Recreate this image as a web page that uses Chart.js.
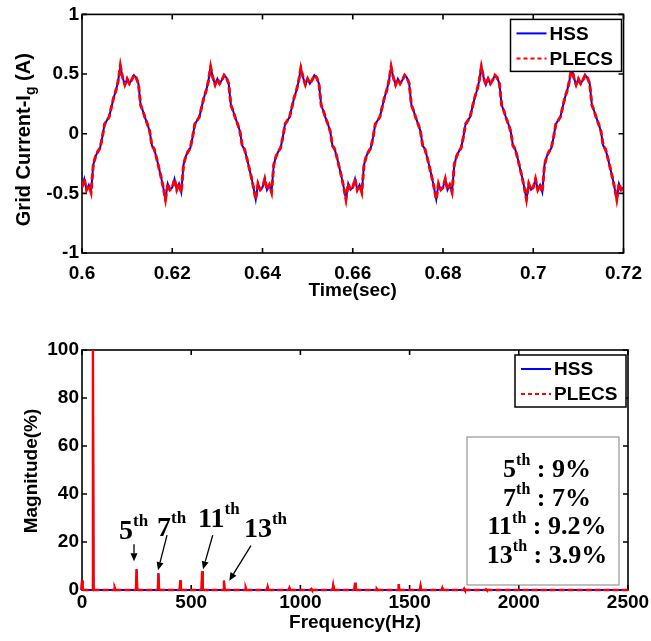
<!DOCTYPE html>
<html>
<head>
<meta charset="utf-8">
<title>Grid current: HSS vs PLECS</title>
<script src="https://cdn.jsdelivr.net/npm/chart.js@4.4.1/dist/chart.umd.min.js"></script>
<style>
  body { margin: 0; background: #fff; }
  canvas { position: absolute; left: 0; }
  #timeChart { top: 0; }
  #fftChart { top: 318px; }
</style>
</head>
<body>
<canvas id="timeChart" width="651" height="318"></canvas>
<canvas id="fftChart" width="651" height="323"></canvas>
<script>
// grid current, sampled every 0.5 ms from 0.6 s to 0.72 s (two rows per 20 ms cycle)
const timeStart = 0.6;
const timeStep = 0.0005;
const hssCurrent = [
  -0.45, -0.38, -0.47, -0.43, -0.49, -0.26, -0.19, -0.15, -0.12, -0.03, 0.08, 0.11, 0.14, 0.22, 0.30, 0.36, 0.44, 0.57, 0.47, 0.41,
   0.46,  0.42,  0.45,  0.49,  0.47,  0.42,  0.24,  0.19,  0.13,  0.08, 0.02, -0.10, -0.13, -0.20, -0.28, -0.36, -0.45, -0.55, -0.42, -0.47,
  -0.45, -0.38, -0.47, -0.42, -0.49, -0.26, -0.19, -0.15, -0.12, -0.03, 0.08, 0.11, 0.14, 0.22, 0.30, 0.36, 0.44, 0.56, 0.47, 0.41,
   0.46,  0.42,  0.45,  0.49,  0.47,  0.42,  0.24,  0.19,  0.13,  0.08, 0.02, -0.10, -0.13, -0.20, -0.28, -0.36, -0.45, -0.55, -0.42, -0.47,
  -0.45, -0.38, -0.47, -0.43, -0.49, -0.26, -0.19, -0.15, -0.12, -0.03, 0.08, 0.11, 0.14, 0.22, 0.30, 0.36, 0.44, 0.55, 0.47, 0.41,
   0.46,  0.42,  0.45,  0.49,  0.47,  0.42,  0.24,  0.19,  0.13,  0.08, 0.02, -0.10, -0.13, -0.20, -0.28, -0.36, -0.45, -0.55, -0.42, -0.47,
  -0.45, -0.38, -0.47, -0.43, -0.49, -0.26, -0.19, -0.15, -0.12, -0.03, 0.08, 0.11, 0.14, 0.22, 0.30, 0.36, 0.44, 0.56, 0.47, 0.41,
   0.46,  0.42,  0.45,  0.49,  0.47,  0.42,  0.24,  0.19,  0.13,  0.08, 0.02, -0.10, -0.13, -0.20, -0.28, -0.36, -0.45, -0.55, -0.42, -0.47,
  -0.45, -0.38, -0.47, -0.43, -0.49, -0.26, -0.19, -0.15, -0.12, -0.03, 0.08, 0.11, 0.14, 0.22, 0.30, 0.36, 0.44, 0.56, 0.47, 0.41,
   0.46,  0.42,  0.45,  0.49,  0.47,  0.42,  0.24,  0.19,  0.13,  0.08, 0.02, -0.10, -0.13, -0.20, -0.28, -0.36, -0.45, -0.55, -0.42, -0.47,
  -0.45, -0.38, -0.47, -0.43, -0.49, -0.26, -0.19, -0.15, -0.12, -0.03, 0.08, 0.11, 0.14, 0.22, 0.30, 0.36, 0.44, 0.56, 0.47, 0.41,
   0.46,  0.42,  0.45,  0.49,  0.47,  0.42,  0.24,  0.19,  0.13,  0.08, 0.02, -0.10, -0.13, -0.20, -0.28, -0.36, -0.45, -0.55, -0.42, -0.47,
  -0.45
];
// PLECS trace lies on top of the HSS one
const plecsCurrent = hssCurrent.slice();

const timeTicks = [0.6, 0.62, 0.64, 0.66, 0.68, 0.7, 0.72];
const timeTickLabels = ["0.6", "0.62", "0.64", "0.66", "0.68", "0.7", "0.72"];
const currentTicks = [-1, -0.5, 0, 0.5, 1];
const currentTickLabels = ["-1", "-0.5", "0", "0.5", "1"];

// harmonic spectrum (% of fundamental)
const spectrumFreqs = [0, 50, 150, 250, 350, 450, 550, 650, 750, 850, 950, 1050, 1150, 1250, 1350, 1450, 1550, 1650, 1750, 1850, 2500];
const hssMag =   [4, 100, 0.8, 8.6, 7.0, 4.0, 7.8, 3.9, 0.8, 1.2, 0.8, 0.4, 1.8, 3.0, 0.4, 2.4, 1.6, 0.8, 0.5, 0.3, 0];
const plecsMag = [4, 100, 0.8, 8.6, 7.0, 4.0, 7.8, 3.9, 0.8, 1.2, 0.8, 0.4, 1.8, 3.0, 0.4, 2.4, 1.6, 0.8, 0.5, 0.3, 0];
const freqTicks = [0, 500, 1000, 1500, 2000, 2500];
const freqTickLabels = ["0", "500", "1000", "1500", "2000", "2500"];
const magTicks = [0, 20, 40, 60, 80, 100];
const magTickLabels = ["0", "20", "40", "60", "80", "100"];

const harmonicOrders = ["5", "7", "11", "13"];
const harmonicFreqs = [250, 350, 550, 650];
const harmonicShares = ["9%", "7%", "9.2%", "3.9%"];

const SANS = '"Liberation Sans", Arial, sans-serif';
const SERIF = '"Liberation Serif", "Times New Roman", serif';

function timePoints(values) {
    return values.map((v, i) => ({ x: timeStart + i * timeStep, y: v }));
}

function stemPoints(freqs, mags) {
    const pts = [];
    freqs.forEach((f, i) => {
        pts.push({ x: f - 3, y: 0 }, { x: f, y: mags[i] }, { x: f + 3, y: 0 });
    });
    return pts;
}

// dashed only along the zero floor, solid on the spectral lines
function floorDash(dash) {
    return c => (c.p0.parsed.y === 0 && c.p1.parsed.y === 0) ? dash : [];
}

function drawOrdinal(ctx, num, tail, x, y, size, centered) {
    const big = `bold ${size}px ${SERIF}`;
    const small = `bold ${Math.round(size * 0.6)}px ${SERIF}`;
    ctx.font = big;
    const w1 = ctx.measureText(num).width;
    const w3 = tail ? ctx.measureText(tail).width : 0;
    ctx.font = small;
    const w2 = ctx.measureText("th").width;
    const left = centered ? x - (w1 + w2 + w3) / 2 : x;
    ctx.textAlign = "left";
    ctx.textBaseline = "alphabetic";
    ctx.fillStyle = "#000";
    ctx.font = big;
    ctx.fillText(num, left, y);
    ctx.font = small;
    ctx.fillText("th", left + w1, y - size * 0.45);
    if (tail) {
        ctx.font = big;
        ctx.fillText(tail, left + w1 + w2, y);
    }
}

function drawArrow(ctx, x1, y1, x2, y2) {
    const ang = Math.atan2(y2 - y1, x2 - x1);
    const len = 8, half = 3.5;
    ctx.strokeStyle = "#000";
    ctx.fillStyle = "#000";
    ctx.lineWidth = 1.3;
    ctx.beginPath();
    ctx.moveTo(x1, y1);
    ctx.lineTo(x2 - Math.cos(ang) * len, y2 - Math.sin(ang) * len);
    ctx.stroke();
    ctx.beginPath();
    ctx.moveTo(x2, y2);
    ctx.lineTo(x2 - Math.cos(ang) * len - Math.sin(ang) * half, y2 - Math.sin(ang) * len + Math.cos(ang) * half);
    ctx.lineTo(x2 - Math.cos(ang) * len + Math.sin(ang) * half, y2 - Math.sin(ang) * len - Math.cos(ang) * half);
    ctx.closePath();
    ctx.fill();
}

// MATLAB-style box with inward ticks
const framePlugin = {
    id: "frame",
    beforeDatasetsDraw(chart, args, opts) {
        const { ctx, chartArea: a, scales: { x, y } } = chart;
        ctx.save();
        ctx.strokeStyle = "#000";
        ctx.lineWidth = 1.6;
        ctx.strokeRect(a.left, a.top, a.right - a.left, a.bottom - a.top);
        ctx.beginPath();
        opts.xTicks.forEach(v => {
            const px = x.getPixelForValue(v);
            ctx.moveTo(px, a.bottom); ctx.lineTo(px, a.bottom - 5);
            ctx.moveTo(px, a.top); ctx.lineTo(px, a.top + 5);
        });
        opts.yTicks.forEach(v => {
            const py = y.getPixelForValue(v);
            ctx.moveTo(a.left, py); ctx.lineTo(a.left + 5, py);
            ctx.moveTo(a.right, py); ctx.lineTo(a.right - 5, py);
        });
        ctx.stroke();

        // y axis title, rotated
        const cy = (a.top + a.bottom) / 2 + opts.titleShift;
        ctx.translate(opts.titleX, cy);
        ctx.rotate(-Math.PI / 2);
        ctx.fillStyle = "#000";
        ctx.textBaseline = "alphabetic";
        ctx.textAlign = "left";
        const main = `bold ${opts.titleSize}px ${SANS}`, sub = `bold 14px ${SANS}`;
        ctx.font = main;
        const w1 = ctx.measureText(opts.title[0]).width;
        const w3 = opts.title[2] ? ctx.measureText(opts.title[2]).width : 0;
        ctx.font = sub;
        const w2 = opts.title[1] ? ctx.measureText(opts.title[1]).width : 0;
        const left = -(w1 + w2 + w3) / 2;
        ctx.font = main;
        ctx.fillText(opts.title[0], left, 0);
        if (opts.title[1]) {
            ctx.font = sub;
            ctx.fillText(opts.title[1], left + w1, 5);
            ctx.font = main;
            ctx.fillText(opts.title[2], left + w1 + w2, 0);
        }
        ctx.restore();
    },
    afterDatasetsDraw(chart, args, opts) {
        const { ctx, chartArea: a } = chart;
        ctx.save();
        // legend box
        const w = 111, h = 52;
        const left = a.right - w - 2, top = a.top + 5;
        ctx.fillStyle = "#fff";
        ctx.fillRect(left, top, w, h);
        ctx.strokeStyle = "#000";
        ctx.lineWidth = 1.5;
        ctx.strokeRect(left, top, w, h);
        const rows = [
            { text: "HSS", color: "#0000ff", dash: [] },
            { text: "PLECS", color: "#ff0000", dash: [4, 3] }
        ];
        rows.forEach((r, i) => {
            const ry = top + 14 + i * 25;
            ctx.strokeStyle = r.color;
            ctx.lineWidth = 2;
            ctx.setLineDash(r.dash);
            ctx.beginPath();
            ctx.moveTo(left + 6, ry);
            ctx.lineTo(left + 36, ry);
            ctx.stroke();
            ctx.setLineDash([]);
            ctx.fillStyle = "#000";
            ctx.font = `bold 19px ${SANS}`;
            ctx.textAlign = "left";
            ctx.textBaseline = "middle";
            ctx.fillText(r.text, left + 39, ry + 1);
        });
        ctx.restore();
    }
};

// harmonic labels, arrows and the summary box
const harmonicPlugin = {
    id: "harmonics",
    afterDatasetsDraw(chart) {
        const { ctx, chartArea: a, scales: { x, y } } = chart;
        ctx.save();
        // [tail dx, tail dy, head dx, head dy, text dx, text dy] relative to the line top
        const layout = [
            [-2.6, -25, -2.6, -8, -17.6, -30.4],
            [8.6, -38, -0.4, -3, -1.4, -37.2],
            [10.6, -36, 0.9, -2, -4.1, -44.3],
            [27, -35, 5.3, 0, 20, -43.6]
        ];
        harmonicFreqs.forEach((f, i) => {
            const k = spectrumFreqs.indexOf(f);
            const bx = x.getPixelForValue(f);
            const by = y.getPixelForValue(plecsMag[k]);
            const L = layout[i];
            drawArrow(ctx, bx + L[0], by + L[1], bx + L[2], by + L[3]);
            drawOrdinal(ctx, harmonicOrders[i], "", bx + L[4], by + L[5], 28, false);
        });

        const bw = 152, bh = 148;
        const bl = a.right - 9 - bw, bt = a.bottom - 5 - bh;
        ctx.fillStyle = "#fff";
        ctx.fillRect(bl, bt, bw, bh);
        ctx.strokeStyle = "#808080";
        ctx.lineWidth = 1;
        ctx.strokeRect(bl, bt, bw, bh);
        harmonicOrders.forEach((o, i) => {
            drawOrdinal(ctx, o, " : " + harmonicShares[i], bl + bw / 2 + 4, bt + 40 + i * 28.6, 26, true);
        });
        ctx.restore();
    }
};

function axisFont() {
    return { family: SANS, size: 19, weight: "bold" };
}

new Chart(document.getElementById("timeChart"), {
    type: "line",
    data: {
        datasets: [
            { label: "PLECS", data: timePoints(plecsCurrent), borderColor: "#ff0000", borderWidth: 3, borderDash: [6, 3], pointRadius: 0, order: 0 },
            { label: "HSS", data: timePoints(hssCurrent), borderColor: "#0000ff", borderWidth: 2, pointRadius: 0, order: 1 }
        ]
    },
    options: {
        responsive: false,
        animation: false,
        devicePixelRatio: 1,
        layout: { padding: { top: 12, right: 23, left: 0, bottom: 0 } },
        plugins: {
            legend: { display: false },
            tooltip: { enabled: false },
            frame: { xTicks: timeTicks, yTicks: currentTicks, title: ["Grid Current-I", "g", " (A)"], titleX: 30, titleShift: 6, titleSize: 20 }
        },
        scales: {
            x: {
                type: "linear", min: 0.6, max: 0.72,
                afterBuildTicks: s => { s.ticks = timeTicks.map(v => ({ value: v })); },
                afterFit: s => { s.height = 65; },
                grid: { display: false, drawTicks: false }, border: { display: false },
                ticks: { font: axisFont(), color: "#000", padding: 9, maxRotation: 0, autoSkip: false,
                         callback: (v, i) => timeTickLabels[i] },
                title: { display: true, text: "Time(sec)", font: axisFont(), color: "#000", padding: { top: 0, bottom: 16 } }
            },
            y: {
                min: -1, max: 1,
                afterBuildTicks: s => { s.ticks = currentTicks.map(v => ({ value: v })); },
                afterFit: s => { s.width = 82; },
                grid: { display: false, drawTicks: false }, border: { display: false },
                ticks: { font: axisFont(), color: "#000", padding: 3, callback: (v, i) => currentTickLabels[i] }
            }
        }
    },
    plugins: [framePlugin]
});

new Chart(document.getElementById("fftChart"), {
    type: "line",
    data: {
        datasets: [
            { label: "PLECS", data: stemPoints(spectrumFreqs, plecsMag), borderColor: "#ff0000", borderWidth: 2.4,
              segment: { borderDash: floorDash([6, 3]) }, pointRadius: 0, order: 0, clip: false },
            { label: "HSS", data: stemPoints(spectrumFreqs, hssMag), borderColor: "#0000ff", borderWidth: 1.8,
              pointRadius: 0, order: 1, clip: false }
        ]
    },
    options: {
        responsive: false,
        animation: false,
        devicePixelRatio: 1,
        layout: { padding: { top: 32, right: 23, left: 0, bottom: 0 } },
        plugins: {
            legend: { display: false },
            tooltip: { enabled: false },
            frame: { xTicks: freqTicks, yTicks: magTicks, title: ["Magnitude(%)"], titleX: 37, titleShift: 1, titleSize: 19 }
        },
        scales: {
            x: {
                type: "linear", min: 0, max: 2500,
                afterBuildTicks: s => { s.ticks = freqTicks.map(v => ({ value: v })); },
                afterFit: s => { s.height = 51; },
                grid: { display: false, drawTicks: false }, border: { display: false },
                ticks: { font: axisFont(), color: "#000", padding: 1, maxRotation: 0, autoSkip: false,
                         callback: (v, i) => freqTickLabels[i] },
                title: { display: true, text: "Frequency(Hz)", font: axisFont(), color: "#000", padding: { top: 0, bottom: 7 } }
            },
            y: {
                min: 0, max: 100,
                afterBuildTicks: s => { s.ticks = magTicks.map(v => ({ value: v })); },
                afterFit: s => { s.width = 82; },
                grid: { display: false, drawTicks: false }, border: { display: false },
                ticks: { font: axisFont(), color: "#000", padding: 3, callback: (v, i) => magTickLabels[i] }
            }
        }
    },
    plugins: [framePlugin, harmonicPlugin]
});
</script>
</body>
</html>
